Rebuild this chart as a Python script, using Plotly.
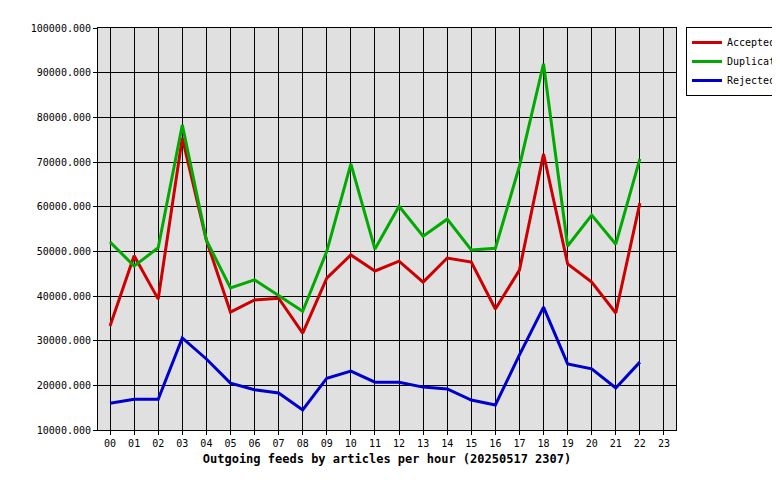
import plotly.graph_objects as go

hours = [f"{h:02d}" for h in range(24)]
accepted = [33300,49000,39300,75400,52500,36400,39100,39500,31700,44000,49200,45600,47800,43100,48500,47600,37100,45800,71800,47200,43100,36200,60800]
duplicates = [52100,46700,50800,78300,52500,41800,43600,40200,36600,50000,69600,50500,60100,53400,57200,50300,50700,69100,92000,51200,58100,51600,70700]
rejected = [16000,16900,16900,30600,25900,20500,19000,18300,14500,21600,23200,20700,20700,19600,19200,16700,15600,26800,37500,24800,23700,19400,25200]

fig = go.Figure()
for name, vals, col in [("Accepted", accepted, "#cc0000"), ("Duplicates", duplicates, "#00aa00"), ("Rejected", rejected, "#0000cc")]:
    fig.add_trace(go.Scatter(x=list(range(len(vals))), y=vals, name=name, mode="lines",
                             line=dict(color=col, width=3)))

font = dict(family="DejaVu Sans Mono", size=10, color="black")
fig.update_layout(
    width=780, height=480, margin=dict(l=90, r=112, t=20, b=58, autoexpand=False),
    paper_bgcolor="white", plot_bgcolor="#e0e0e0", font=font, showlegend=True,
    legend=dict(xref="container", yref="container", x=678/780, y=1-19/480, xanchor="left", yanchor="top",
                bordercolor="black", borderwidth=1, bgcolor="white", itemwidth=30, tracegroupgap=0,
                font=dict(family="DejaVu Sans Mono", size=10)),
    xaxis=dict(range=[-0.5, 23.5], tickvals=list(range(24)), ticktext=hours, showgrid=True,
               gridcolor="black", gridwidth=1, showline=True, linecolor="black", mirror=True,
               ticks="outside", ticklen=4, tickcolor="black", zeroline=False, automargin=False,
               title=dict(text="<b>Outgoing feeds by articles per hour (20250517 2307)</b>", standoff=6)),
    yaxis=dict(range=[10000, 100000], dtick=10000, tickformat=".3f", showgrid=True,
               gridcolor="black", gridwidth=1, showline=True, linecolor="black", mirror=True,
               ticks="outside", ticklen=4, tickcolor="black", zeroline=False, automargin=False),
)
fig.write_html("out.html")
